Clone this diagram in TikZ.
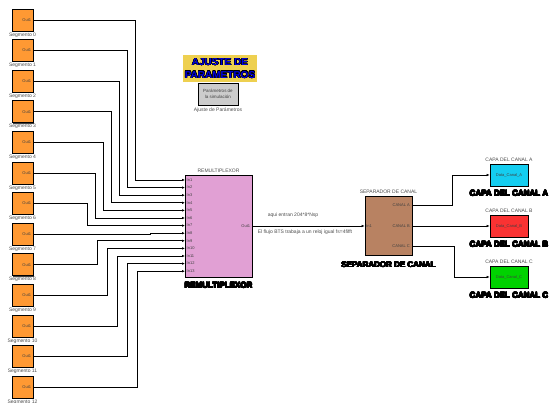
\documentclass[tikz,border=0pt]{standalone}
\usepackage{fontspec}
\setmainfont{Liberation Sans}
\usepackage{contour}
\contourlength{0.35pt}
\usetikzlibrary{arrows.meta,positioning,calc,shadows}
\definecolor{segorange}{RGB}{255,153,51}
\definecolor{muxpink}{RGB}{225,160,212}
\definecolor{sepbrown}{RGB}{184,130,98}
\definecolor{capacyan}{RGB}{20,205,240}
\definecolor{capared}{RGB}{250,50,50}
\definecolor{capagreen}{RGB}{0,210,0}
\definecolor{ajyellow}{RGB}{238,208,80}
\definecolor{ajblue}{RGB}{0,0,225}
\tikzset{
  blk/.style     = {draw, line width=0.7pt, inner sep=0pt,
                    drop shadow={shadow xshift=0.8pt, shadow yshift=-0.8pt,
                                 fill=black!75, opacity=1}},
  segblk/.style  = {blk, fill=segorange, minimum width=21pt, minimum height=22pt},
  muxblk/.style  = {blk, fill=muxpink, minimum width=67pt, minimum height=102pt},
  sepblk/.style  = {blk, fill=sepbrown, minimum width=47pt, minimum height=59pt},
  capablk/.style = {blk, minimum width=38pt, minimum height=22pt},
  tinytxt/.style = {font=\fontsize{4}{4.5}\selectfont, inner sep=0.5pt, text=black!75},
  lbl/.style     = {font=\fontsize{5}{6}\selectfont, inner sep=0.5pt, text=black!70},
  bigtxt/.style  = {font=\fontsize{8}{9}\selectfont\bfseries, inner sep=0pt},
  wire/.style    = {line width=0.7pt},
  ar/.style      = {wire, -{Latex[length=3pt,width=2.6pt]}}
}
\newcommand{\heavytxt}[1]{\contour{black}{#1}}

\begin{document}
\begin{tikzpicture}[x=1pt, y=-1pt]
\useasboundingbox (0,0) rectangle (549,403);

% segment sources
\foreach \k in {0,...,12} {
  \node[segblk, label={[lbl, label distance=0.6pt]below:Segmento \k}] (s\k) at (22.5, 20+30.6*\k) {};
  \node[tinytxt, anchor=east] at ([xshift=-1.5pt]s\k.east) {Out1};
}

% remultiplexor
\node[muxblk] (mux) at (218.5, 226) {};
\node[lbl, above=1.5pt of mux] {REMULTIPLEXOR};
\node[bigtxt, below=5pt of mux] {\heavytxt{REMULTIPLEXOR}};
\foreach \j in {1,...,13} {
  \coordinate (in\j) at (185, 172.4+7.6*\j);
  \node[tinytxt, anchor=west] at ([xshift=1pt]in\j) {In\j};
}
\node[tinytxt, anchor=east] at ([xshift=-1.5pt]mux.east) {Out1};

% wiring segments -> mux
\foreach \k/\xv in {0/135,1/127,2/119,3/111,4/103,5/95,6/87,7/150,
                     8/97,9/107,10/117,11/127,12/137} {
  \pgfmathtruncatemacro{\j}{\k+1}
  \coordinate (v\k) at (\xv, 0);
  \draw[ar] (s\k.east) -| (v\k |- in\j) -- (in\j);
}

% separador de canal
\node[sepblk] (sep) at (388.5, 226) {};
\node[lbl, above=1.5pt of sep] {SEPARADOR DE CANAL};
\node[bigtxt, below=6pt of sep] {\heavytxt{SEPARADOR DE CANAL}};
\node[tinytxt, anchor=west] at ([xshift=1pt]sep.west) {In1};
\coordinate (ca) at (412, 205);
\coordinate (cb) at (412, 226);
\coordinate (cc) at (412, 246);
\node[tinytxt, anchor=east] at ([xshift=-1.5pt]ca) {CANAL A};
\node[tinytxt, anchor=east] at ([xshift=-1.5pt]cb) {CANAL B};
\node[tinytxt, anchor=east] at ([xshift=-1.5pt]cc) {CANAL C};

\draw[ar] (mux.east) -- (sep.west);
\node[lbl] at (293, 215) {aqui entran 204*8*Nsp};
\node[lbl] at (305, 232) {El flujo BTS trabaja a un reloj igual fs=4fifft};

% capas de canal
\node[capablk, fill=capacyan] (capaA) at (509, 175) {};
\node[capablk, fill=capared] (capaB) at (509, 226) {};
\node[capablk, fill=capagreen] (capaC) at (509, 277) {};
\foreach \c in {A,B,C} {
  \node[tinytxt] at (capa\c) {Data\_Canal\_\c};
  \node[lbl, above=1.5pt of capa\c] {CAPA DEL CANAL \c};
  \node[bigtxt, below=4pt of capa\c] {\heavytxt{CAPA DEL CANAL \c}};
}
\draw[ar] (ca) -- ++(40,0) |- (capaA.west);
\draw[ar] (cb) -- (capaB.west);
\draw[ar] (cc) -- ++(42,0) |- (capaC.west);

% ajuste de parametros
\node[fill=ajyellow, minimum width=74pt, minimum height=27pt, inner sep=0pt,
      align=center, font=\fontsize{10}{12.5}\selectfont\bfseries] (ajuste) at (220, 68.5)
      {\contour{black}{\textcolor{ajblue}{AJUSTE DE}}\\
       \contour{black}{\textcolor{ajblue}{PARAMETROS}}};
\node[blk, fill=black!20, minimum width=40pt, minimum height=22pt, align=center,
      font=\fontsize{4.5}{5.5}\selectfont, text=black!75,
      label={[lbl, label distance=1.5pt]below:Ajuste de Parámetros}] (param) at (218, 94)
      {Parámetros de\\la simulación};
\end{tikzpicture}
\end{document}
